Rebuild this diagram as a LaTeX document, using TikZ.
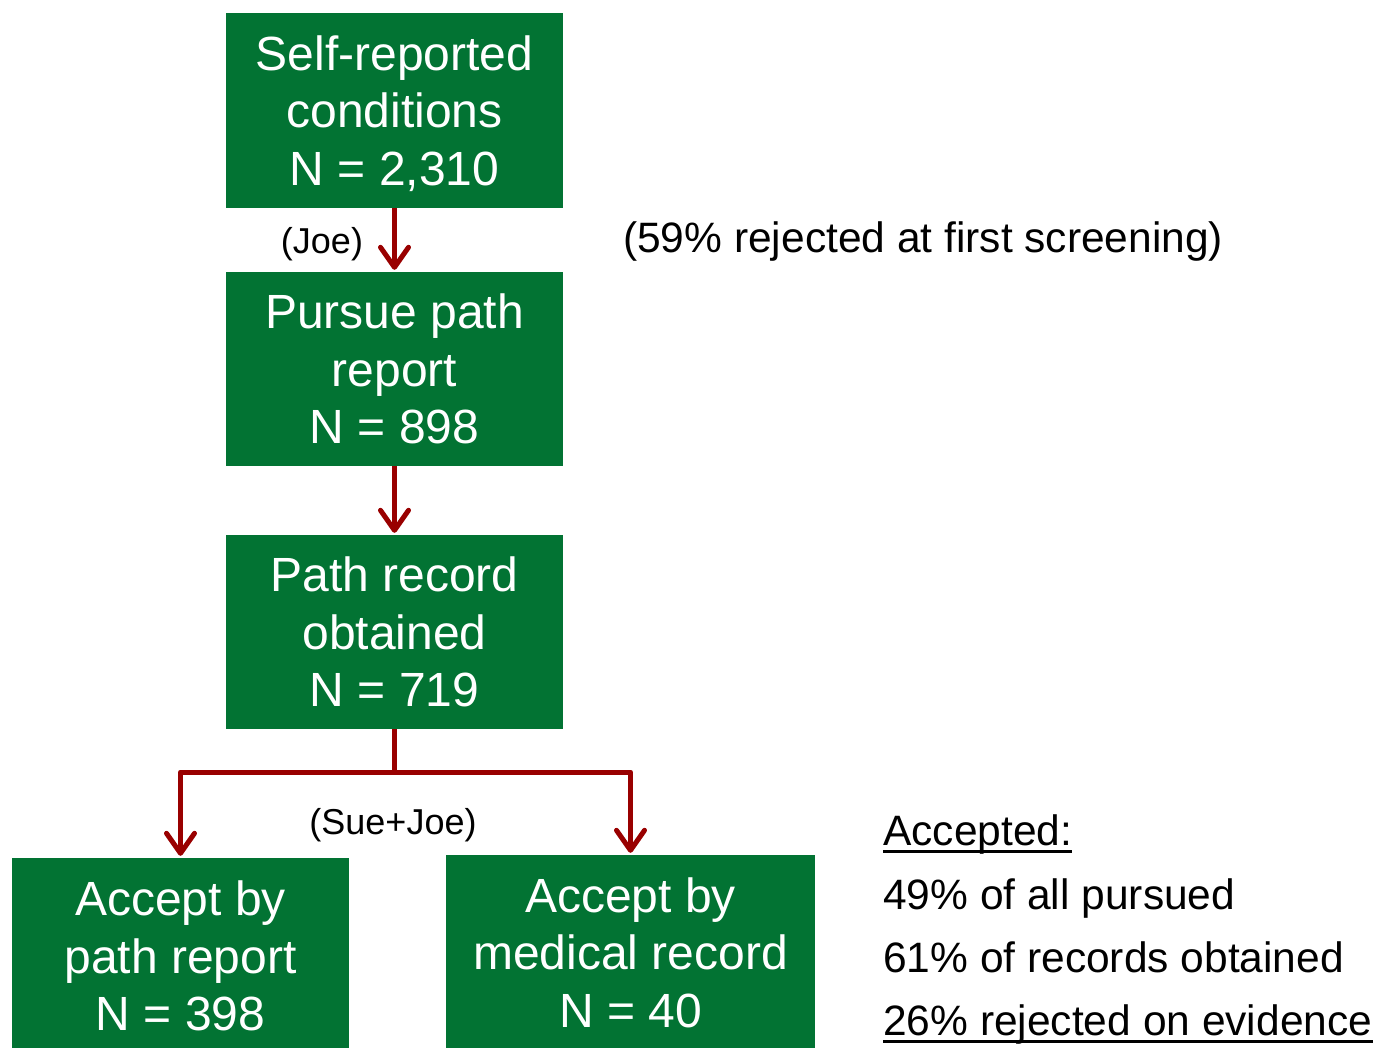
\documentclass[tikz,border=0pt]{standalone}
\usepackage{fontspec}
\setmainfont{Liberation Sans}
\usetikzlibrary{arrows.meta}
\definecolor{boxgreen}{HTML}{027333}
\definecolor{arrred}{HTML}{990000}
\tikzset{
  flowbox/.style={fill=boxgreen, draw=none, inner sep=0pt},
  boxtext/.style={text=white, align=center, inner sep=0pt,
    font=\fontsize{48}{57.5}\selectfont},
  flowarrow/.style={draw=arrred, line width=5pt, line join=round,
    -{Straight Barb[length=20pt,width=28pt,round]}},
  flowline/.style={draw=arrred, line width=5pt, line join=round},
  smalllabel/.style={font=\fontsize{36}{43}\selectfont, inner sep=0pt},
  notelabel/.style={font=\fontsize{42.5}{51}\selectfont, inner sep=0pt, anchor=base west},
}
\begin{document}
\begin{tikzpicture}[x=1pt,y=1pt]
\useasboundingbox (0,0) rectangle (1378,-1049);
% boxes
\node[flowbox, minimum width=337pt, minimum height=195pt] (b1) at (394.5,-110.5) {};
\node[flowbox, minimum width=337pt, minimum height=194pt] (b2) at (394.5,-369) {};
\node[flowbox, minimum width=337pt, minimum height=194pt] (b3) at (394.5,-632) {};
\node[flowbox, minimum width=337pt, minimum height=190pt] (b4) at (180.5,-953) {};
\node[flowbox, minimum width=369pt, minimum height=193pt] (b5) at (630.5,-951.5) {};
\node[boxtext] (t1) at ([yshift=-3pt]b1.center) {Self-reported\\conditions\\N = 2,310};
\node[boxtext] (t2) at ([yshift=0pt]b2.center) {Pursue path\\report\\N = 898};
\node[boxtext] (t3) at ([yshift=0pt]b3.center) {Path record\\obtained\\N = 719};
\node[boxtext] (t4) at ([yshift=-3pt]b4.center) {Accept by\\path report\\N = 398};
\node[boxtext] (t5) at ([yshift=-1pt]b5.center) {Accept by\\medical record\\N = 40};
% connectors
\draw[flowarrow] (b1.south) -- ([yshift=2pt]b2.north);
\draw[flowarrow] (b2.south) -- ([yshift=2pt]b3.north);
\coordinate (j) at (394.5,-772);
\draw[flowline] (b3.south) -- (j);
\draw[flowarrow] (j) -| ([yshift=2pt]b4.north);
\draw[flowarrow] (j) -| ([yshift=2pt]b5.north);
% labels
\node[smalllabel] (joe) at (322,-244) {(Joe)};
\node[smalllabel] (suejoe) at (393,-825) {(Sue+Joe)};
\node[notelabel] (rej) at (623,-252) {(59\% rejected at first screening)};
% notes
\node[notelabel] (n1) at (883,-845) {Accepted:};
\node[notelabel] (n2) at (883,-909) {49\% of all pursued};
\node[notelabel] (n3) at (883,-972) {61\% of records obtained};
\node[notelabel] (n4) at (883,-1035) {26\% rejected on evidence};
\draw[line width=3pt] ([yshift=-6pt]n1.base west) -- ([yshift=-6pt]n1.base east);
\draw[line width=3pt] ([yshift=-6pt]n4.base west) -- ([yshift=-6pt]n4.base east);
\end{tikzpicture}
\end{document}
